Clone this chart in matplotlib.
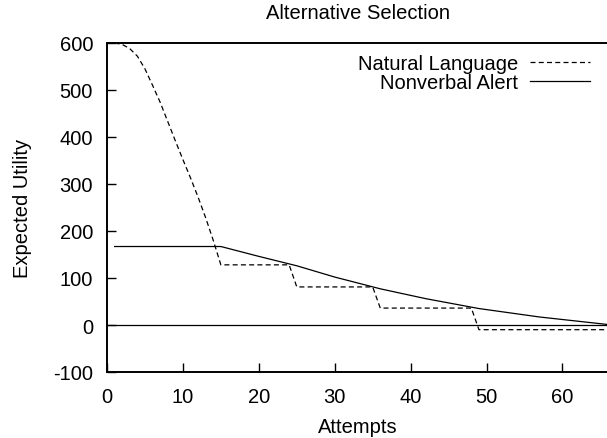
import matplotlib
matplotlib.use("Agg")
import matplotlib.pyplot as plt

# ---- data ----
nl_x = [1, 2, 3, 4, 5, 6, 7, 8, 9, 10, 11, 12, 13, 14, 15, 24, 25, 35, 36, 48, 49, 66]
nl_y = [600, 597, 588, 572, 545, 510, 474, 433, 392, 352, 313, 272, 228, 180, 128,
        128, 81, 81, 36, 36, -10, -10]

na_x = [1, 15, 20, 25, 30, 36, 42, 49, 57, 66]
na_y = [167, 167, 146, 126, 102, 77, 56, 35, 17, 1]

labels = ["Natural Language", "Nonverbal Alert"]
x_ticks = [0, 10, 20, 30, 40, 50, 60]
y_ticks = [-100, 0, 100, 200, 300, 400, 500, 600]

plt.rcParams['font.family'] = ['Liberation Sans', 'DejaVu Sans']
plt.rcParams['axes.unicode_minus'] = False
FS = 14.5

fig = plt.figure(figsize=(6.07, 4.39), dpi=100)
W, H = 607, 439
left, right, top, bottom = 107, 608, 44, 373
ax = fig.add_axes([left / W, 1 - bottom / H, (right - left) / W, (bottom - top) / H])

ax.plot(nl_x, nl_y, color='black', lw=0.9, dashes=(4.0, 2.6), label=labels[0])
ax.plot(na_x, na_y, color='black', lw=0.9, label=labels[1])
ax.axhline(0, color='black', lw=0.9, zorder=1)

ax.set_xlim(0, 66)
ax.set_ylim(-100, 600)
ax.set_xticks(x_ticks)
ax.set_yticks(y_ticks)
ax.tick_params(direction='in', length=6.5, width=1.0, labelsize=FS)
ax.tick_params(axis='x', pad=11)
ax.tick_params(axis='y', pad=10)

for s in ['left', 'bottom', 'top']:
    ax.spines[s].set_linewidth(1.4)
ax.spines['right'].set_visible(False)

ax.set_title("Alternative Selection", fontsize=FS, pad=18)
ax.set_xlabel("Attempts", fontsize=FS, labelpad=7.5)
ax.set_ylabel("Expected Utility", fontsize=FS)
ax.yaxis.set_label_coords(-0.15, 0.5)

leg = ax.legend(loc='upper right', bbox_to_anchor=((590 - left) / (right - left), 1 - 11 / (bottom - top)),
                frameon=False, fontsize=FS, markerfirst=False, handlelength=2.98,
                handletextpad=0.6, borderaxespad=0, borderpad=0, labelspacing=0.0)

fig.savefig("out.png", dpi=100)
